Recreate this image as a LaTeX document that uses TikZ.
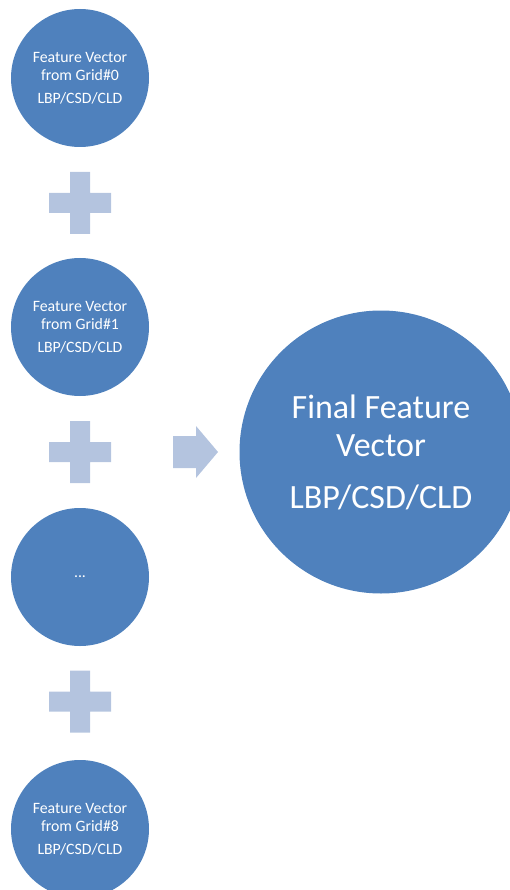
\documentclass[tikz,border=0pt]{standalone}
\usepackage{fontspec}
\setmainfont{Carlito}
\definecolor{discblue}{HTML}{4F81BD}
\definecolor{shapelight}{HTML}{B4C4DF}
\begin{document}
\begin{tikzpicture}[x=1pt,y=-1pt,
  disc/.style={circle,fill=discblue,text=white,inner sep=0pt,
    minimum size=138pt,align=center,font=\fontsize{15.8}{18}\selectfont},
  bigdisc/.style={circle,fill=discblue,text=white,inner sep=0pt,
    minimum size=283pt,align=center,font=\fontsize{34}{38}\selectfont},
  light/.style={fill=shapelight,draw=none}]
\useasboundingbox (0,0) rectangle (510,890);
\begin{scope}
\clip (0,0) rectangle (510,890);
% column of grid feature vectors
\node[disc] (g0) at (80,78) {Feature Vector\\from Grid\#0\\[5pt]LBP/CSD/CLD};
\node[disc] (g1) at (80,327) {Feature Vector\\from Grid\#1\\[5pt]LBP/CSD/CLD};
\node[disc] (gdots) at (80,577) {...};
\node[disc] (g8) at (80,829) {Feature Vector\\from Grid\#8\\[5pt]LBP/CSD/CLD};
% combined result
\node[bigdisc] (final) at (381,452) {Final Feature\\Vector\\[14pt]LBP/CSD/CLD};
% plus signs between the discs
\foreach \cy in {203,452,701.5}{
  \fill[light] (49,\cy-10) -- (70,\cy-10) -- (70,\cy-31) -- (90,\cy-31)
    -- (90,\cy-10) -- (111,\cy-10) -- (111,\cy+10) -- (90,\cy+10)
    -- (90,\cy+31) -- (70,\cy+31) -- (70,\cy+10) -- (49,\cy+10) -- cycle;
}
% block arrow towards the final vector
\fill[light] (173,436) -- (196,436) -- (196,426) -- (218,452)
  -- (196,478) -- (196,468) -- (173,468) -- cycle;
\end{scope}
\end{tikzpicture}
\end{document}
